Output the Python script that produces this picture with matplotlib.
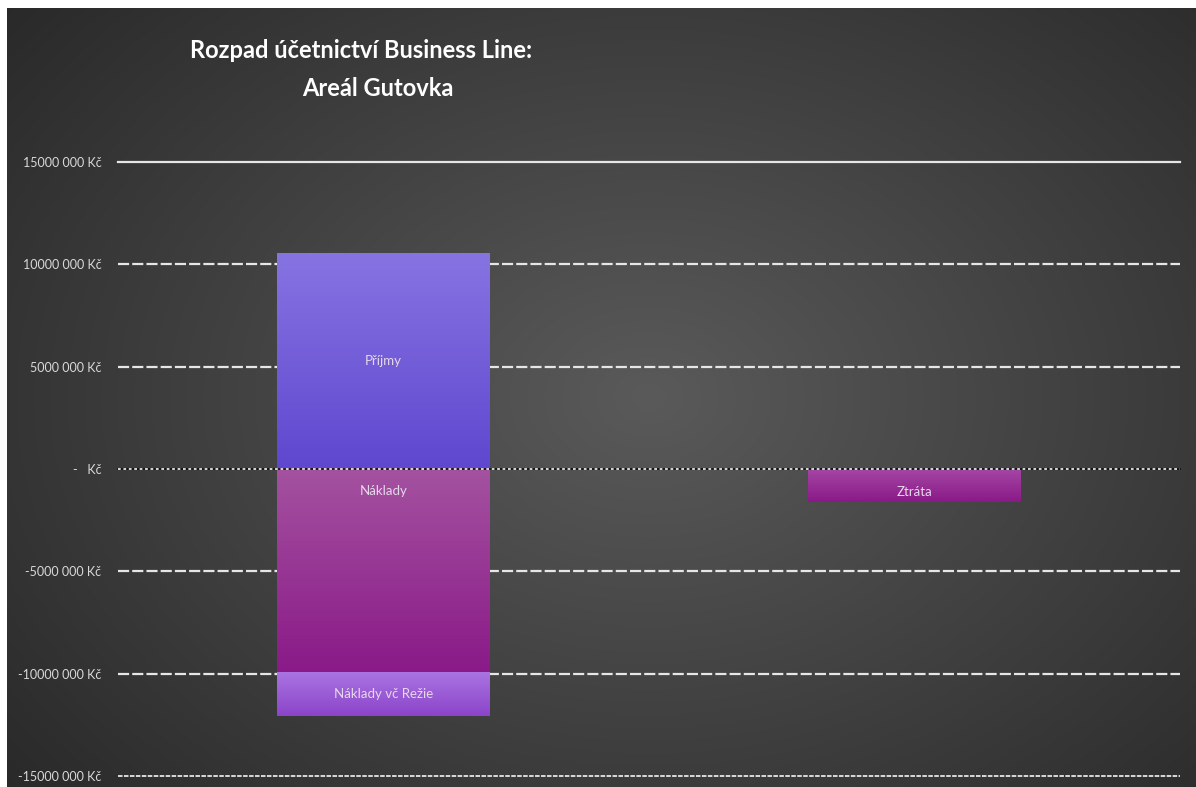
import numpy as np
import matplotlib.pyplot as plt
from matplotlib.colors import LinearSegmentedColormap

# data (CZK)
categories = ['Business Line', 'Výsledek']
prijmy = [10550000, 0]
naklady = [-9930000, 0]
rezie = [-2140000, 0]
ztrata = [0, -1600000]
seg_labels = ['Příjmy', 'Náklady', 'Náklady vč Režie', 'Ztráta']
yticks = [15000000, 10000000, 5000000, 0, -5000000, -10000000, -15000000]
ytick_labels = ['15000 000 Kč', '10000 000 Kč', '5000 000 Kč', '-   Kč',
                '-5000 000 Kč', '-10000 000 Kč', '-15000 000 Kč']

FONT = 'Lato'
W, H = 1196, 787
fig = plt.figure(figsize=(W / 100, H / 100), dpi=100, facecolor='white')

# dark radial background
bg = fig.add_axes([7 / W, 0, 1 - 7 / W, 1 - 8 / H])
bg.set_axis_off()
yy, xx = np.mgrid[0:1:400j, 0:1:600j]
r = np.sqrt(((xx - 0.54) / 0.75) ** 2 + ((yy - 0.5) / 0.85) ** 2)
r = np.clip(r, 0, 1)
bgcmap = LinearSegmentedColormap.from_list('bg', ['#5a5a5a', '#262626'])
bg.imshow(r, cmap=bgcmap, aspect='auto', extent=[0, 1, 0, 1], vmin=0, vmax=1)
bg.set_xlim(0, 1)
bg.set_ylim(0, 1)

ax = fig.add_axes([118 / W, 11 / H, 1062 / W, 614 / H])
ax.patch.set_alpha(0)
for s in ax.spines.values():
    s.set_visible(False)
ax.set_xticks([])
ax.set_yticks(yticks)
ax.set_yticklabels(ytick_labels, fontfamily=FONT, fontsize=9, color='#d9d9d9')
ax.tick_params(axis='y', length=0, pad=12)

# gridlines
for v in yticks:
    if v == 15000000:
        ax.axhline(v, color='#e6e6e6', lw=1.6, zorder=1, clip_on=False)
    elif v == 0:
        ax.axhline(v, color='#111111', lw=1.3, zorder=4, clip_on=False)
        ax.axhline(v, color='#e6e6e6', lw=1.3, ls=(0, (1.5, 1.5)), zorder=4, clip_on=False)
    elif v == -15000000:
        ax.axhline(v, color='#e6e6e6', lw=1.3, ls=(0, (2.5, 0.8)), zorder=1, clip_on=False)
    else:
        ax.axhline(v, color='#e6e6e6', lw=1.6, ls=(0, (5, 1.4)), zorder=1, clip_on=False)

x = np.arange(len(categories))
width = 0.4
grads = [('#8774e2', '#5f47cf'), ('#a452a0', '#8a1a88'),
         ('#aa74e2', '#8b44c9'), ('#a446a4', '#8a1a88')]
b_prijmy = ax.bar(x, prijmy, width, alpha=0)
b_naklady = ax.bar(x, naklady, width, alpha=0)
b_rezie = ax.bar(x, rezie, width, bottom=naklady, alpha=0)
b_ztrata = ax.bar(x, ztrata, width, alpha=0)

grad = np.linspace(0, 1, 256).reshape(-1, 1)
label_pos = ['center', 'top', 'center', 'center']
for cont, (ctop, cbot), lab, pos in zip([b_prijmy, b_naklady, b_rezie, b_ztrata],
                                         grads, seg_labels, label_pos):
    cm = LinearSegmentedColormap.from_list('g', [ctop, cbot])
    for p in cont.patches:
        h = p.get_height()
        if h == 0:
            continue
        x0 = p.get_x()
        x1 = x0 + p.get_width()
        y0 = p.get_y()
        y1 = y0 + h
        top, bot = max(y0, y1), min(y0, y1)
        ax.imshow(grad, cmap=cm, aspect='auto', extent=[x0, x1, bot, top],
                  origin='upper', zorder=3)
        xc = (x0 + x1) / 2
        if pos == 'top':
            ax.annotate(lab, (xc, top), xytext=(0, -16), textcoords='offset points',
                        ha='center', va='center', fontfamily=FONT, fontsize=9.5,
                        color='#e6d8ea', zorder=5)
        else:
            ax.text(xc, (top + bot) / 2 - (300000 if lab == 'Ztráta' else 0), lab,
                    ha='center', va='center', fontfamily=FONT, fontsize=9.5,
                    color='#e6d8ea', zorder=5)

ax.set_xlim(-0.5, 1.5)
ax.set_ylim(-15000000, 15000000)

# title
fig.text(361 / W, 1 - 51 / H, 'Rozpad účetnictví Business Line:', ha='center', va='center',
         fontfamily=FONT, fontweight='bold', fontsize=17, color='white')
fig.text(378 / W, 1 - 89 / H, 'Areál Gutovka', ha='center', va='center',
         fontfamily=FONT, fontweight='bold', fontsize=17, color='white')

fig.savefig('out.png', dpi=100, facecolor='white')
